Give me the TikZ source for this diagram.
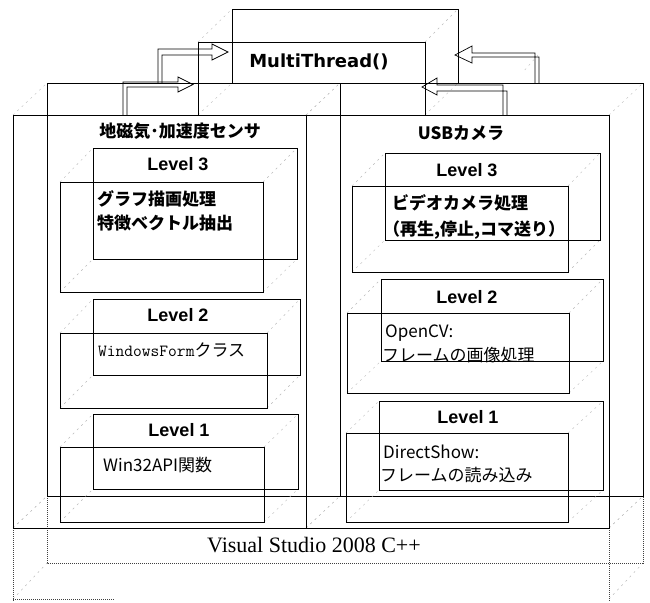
\documentclass[tikz,border=0pt]{standalone}
\usepackage{fontspec}
\setmainfont{Liberation Serif}
\newfontfamily\jpfont{Noto Sans CJK JP}
\newfontfamily\lvfont{Liberation Sans}
\newfontfamily\mtfont{DejaVu Sans}
\newfontfamily\mofont{Latin Modern Mono}
\newcommand\wirebox[9]{%
  \draw[diag] (#1,#2)--(#5,#6) (#3,#2)--(#7,#6) (#1,#4)--(#5,#8) (#3,#4)--(#7,#8);
  \draw[#9] (#5,#6) rectangle (#7,#8);
  \draw[#9] (#1,#2) rectangle (#3,#4);
}
\begin{document}
\begin{tikzpicture}[x=1pt,y=-1pt,
  edge/.style={draw=black,line width=0.8pt},
  diag/.style={draw=black!28,line width=0.4pt,dash pattern=on 2pt off 4pt},
  dotedge/.style={draw=black!75,line width=0.7pt,dash pattern=on 1pt off 1pt},
  hollowarrow/.style={draw=black,line width=0.7pt,line join=miter},
  lvl/.style={font=\lvfont\bfseries\fontsize{18}{20}\selectfont,inner sep=0pt},
  ttl/.style={font=\jpfont\bfseries\fontsize{17}{19}\selectfont,inner sep=0pt},
  bodyb/.style={font=\jpfont\bfseries\fontsize{17}{19}\selectfont,inner sep=0pt,anchor=west},
  body/.style={font=\jpfont\fontsize{17}{19}\selectfont,inner sep=0pt,anchor=west}
]
\useasboundingbox (0,0) rectangle (650,602);

% Visual Studio base (dotted)
\draw[diag] (13,528)--(47,496) (609,528)--(643,496) (13,599)--(47,563) (609,599)--(643,563);
\draw[dotedge] (47,496)--(47,563)--(643,563)--(643,496);
\draw[dotedge] (13,528)--(13,602) (609,528)--(609,602) (13,599)--(115,599);

% outer boxes
\wirebox{13}{115}{306}{528}{47}{83}{340}{496}{edge}
\wirebox{306}{115}{609}{528}{340}{83}{643}{496}{edge}

% MultiThread box
\wirebox{198}{42}{425}{115}{232}{9}{458}{83}{edge}

% left column levels
\wirebox{60}{182}{263}{292}{93}{148}{297}{259}{edge}
\wirebox{60}{333}{267}{408}{93}{299}{300}{375}{edge}
\wirebox{60}{447}{264}{522}{93}{414}{298}{489}{edge}

% right column levels
\wirebox{352}{186}{568}{272}{385}{153}{600}{240}{edge}
\wirebox{347}{313}{569}{393}{381}{279}{603}{361}{edge}
\wirebox{346}{433}{568}{522}{379}{401}{603}{490}{edge}

% hollow arrows
\coordinate (al1) at (158,83);
\coordinate (al2) at (123,115);
\coordinate (ar1) at (539,83);
\coordinate (ar2) at (507,115);
\draw[hollowarrow] (al1) -- (158,49) -- (212,49) -- (212,44) -- (228,52) -- (212,60) -- (212,55) -- (162,55) -- (162,83);
\draw[hollowarrow] (al2) -- (123,82) -- (178,82) -- (178,77) -- (193,84.5) -- (178,92) -- (178,87) -- (127,87) -- (127,115);
\draw[hollowarrow] (ar1) -- (539,57) -- (472,57) -- (472,63) -- (455,55) -- (472,46) -- (472,53) -- (535,53) -- (535,83);
\draw[hollowarrow] (ar2) -- (507,91) -- (437,91) -- (437,95) -- (422,87) -- (437,78) -- (437,85) -- (503,85) -- (503,115);
\draw[diag] (538,55) -- (523,72);

% texts
\node[font=\mtfont\bfseries\fontsize{18}{20}\selectfont,inner sep=0pt] (mt) at (319,62) {MultiThread()};
\node[ttl] (t1) at (180,131) {地磁気･加速度センサ};
\node[ttl] (t2) at (461,133) {USBカメラ};

\node[lvl] (l3a) at (178,164) {Level 3};
\node[lvl] (l2a) at (178,315) {Level 2};
\node[lvl] (l1a) at (179,430) {Level 1};
\node[lvl] (l3b) at (467,170) {Level 3};
\node[lvl] (l2b) at (467,297) {Level 2};
\node[lvl] (l1b) at (468,417) {Level 1};

\node[bodyb] (g1) at (97,199) {グラフ描画処理};
\node[bodyb] (g2) at (97,223) {特徴ベクトル抽出};
\node[bodyb] (v1) at (392,203) {ビデオカメラ処理};
\node[bodyb] (v2) at (383,230) {（再生,停止,コマ送り）};

\node[inner sep=0pt,anchor=west] (wf) at (98,350) {\mofont\fontsize{17}{19}\selectfont WindowsForm\jpfont クラス};
\node[body] (w32) at (103,465) {Win32API関数};
\node[body] (o1) at (385,333) {OpenCV:};
\node[body] (o2) at (382,355) {フレームの画像処理};
\node[body] (d1) at (383,452) {DirectShow:};
\node[body] (d2) at (380,475) {フレームの読み込み};

\node[inner sep=0pt,font=\fontsize{22}{24}\selectfont] (vs) at (314,545) {Visual Studio 2008 C++};
\end{tikzpicture}
\end{document}
